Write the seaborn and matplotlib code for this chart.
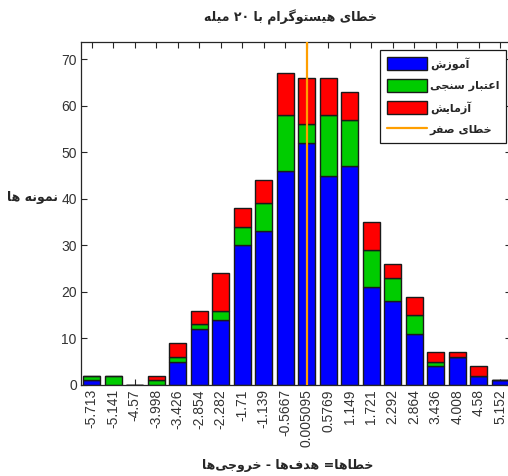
import numpy as np
import pandas as pd
import matplotlib
matplotlib.use('Agg')
import matplotlib.pyplot as plt
import seaborn as sns
from matplotlib.patches import Patch
from matplotlib.lines import Line2D

# ── Data ──────────────────────────────────────────────────────
bin_labels = ['-5.713', '-5.141', '-4.57', '-3.998', '-3.426', '-2.854', '-2.282',
              '-1.71', '-1.139', '-0.5667', '0.005095', '0.5769', '1.149', '1.721',
              '2.292', '2.864', '3.436', '4.008', '4.58', '5.152']
training   = [1, 0, 0, 0, 5, 12, 14, 30, 33, 46, 52, 45, 47, 21, 18, 11, 4, 6, 2, 1]
validation = [1, 2, 0, 1, 1, 1, 2, 4, 6, 12, 4, 13, 10, 8, 5, 4, 1, 0, 0, 0]
test       = [0, 0, 0, 1, 3, 3, 8, 4, 5, 9, 10, 8, 6, 6, 3, 4, 2, 1, 2, 0]

title_txt  = 'خطای هیستوگرام با ۲۰ میله'
xlabel_txt = 'خطاها= هدف\u200cها - خروجی\u200cها'
ylabel_txt = 'نمونه ها'
leg_labels = ['آموزش', 'اعتبار سنجی', 'آزمایش', 'خطای صفر']

# ── Minimal Persian shaping (matplotlib has no RTL / joining) ──
FORMS = {  # isolated, final, initial, medial
    'ا': ('\uFE8D', '\uFE8E'), 'آ': ('\uFE81', '\uFE82'),
    'د': ('\uFEA9', '\uFEAA'), 'ر': ('\uFEAD', '\uFEAE'),
    'ز': ('\uFEAF', '\uFEB0'), 'و': ('\uFEED', '\uFEEE'),
    'ب': ('\uFE8F', '\uFE90', '\uFE91', '\uFE92'),
    'ت': ('\uFE95', '\uFE96', '\uFE97', '\uFE98'),
    'ج': ('\uFE9D', '\uFE9E', '\uFE9F', '\uFEA0'),
    'خ': ('\uFEA5', '\uFEA6', '\uFEA7', '\uFEA8'),
    'س': ('\uFEB1', '\uFEB2', '\uFEB3', '\uFEB4'),
    'ش': ('\uFEB5', '\uFEB6', '\uFEB7', '\uFEB8'),
    'ص': ('\uFEB9', '\uFEBA', '\uFEBB', '\uFEBC'),
    'ط': ('\uFEC1', '\uFEC2', '\uFEC3', '\uFEC4'),
    'ع': ('\uFEC9', '\uFECA', '\uFECB', '\uFECC'),
    'ف': ('\uFED1', '\uFED2', '\uFED3', '\uFED4'),
    'ل': ('\uFEDD', '\uFEDE', '\uFEDF', '\uFEE0'),
    'م': ('\uFEE1', '\uFEE2', '\uFEE3', '\uFEE4'),
    'ن': ('\uFEE5', '\uFEE6', '\uFEE7', '\uFEE8'),
    'ه': ('\uFEE9', '\uFEEA', '\uFEEB', '\uFEEC'),
    'ی': ('\uFEEF', '\uFEF0', '\uFEF3', '\uFEF4'),
    'گ': ('\uFB92', '\uFB93', '\uFB94', '\uFB95'),
}


def shape(s):
    chars = list(s)
    out = []
    for i, c in enumerate(chars):
        f = FORMS.get(c)
        if f is None:
            if c != '\u200c':
                out.append(c)
            continue
        prev = chars[i - 1] if i > 0 else None
        nxt = chars[i + 1] if i + 1 < len(chars) else None
        jp = prev is not None and len(FORMS.get(prev, ())) == 4
        jn = len(f) == 4 and nxt is not None and nxt in FORMS
        if jp and jn:
            out.append(f[3])
        elif jp:
            out.append(f[1])
        elif jn:
            out.append(f[2])
        else:
            out.append(f[0])
    # visual order: reverse, but keep digit runs left-to-right
    runs, cur = [], ''
    for c in out:
        if c.isdigit():
            cur += c
        else:
            if cur:
                runs.append(cur); cur = ''
            runs.append(c)
    if cur:
        runs.append(cur)
    return ''.join(runs[::-1])


# ── Build table for seaborn ───────────────────────────────────
centers = np.array([float(v) for v in bin_labels])
width = (centers[-1] - centers[0]) / (len(centers) - 1)
edges = [float(e) for e in np.append(centers - width / 2, centers[-1] + width / 2)]

df = pd.concat([
    pd.DataFrame({'err': centers, 'n': training,   'set': 'train'}),
    pd.DataFrame({'err': centers, 'n': validation, 'set': 'val'}),
    pd.DataFrame({'err': centers, 'n': test,       'set': 'test'}),
], ignore_index=True)

colors = {'train': '#0000FF', 'val': '#00CC00', 'test': '#FF0000'}
zero_color = '#FF9F00'

sns.set_style('white')
plt.rcParams['font.family'] = ['Liberation Sans', 'DejaVu Sans']

fig = plt.figure(figsize=(5.08, 4.76), dpi=100)
ax = fig.add_axes([81/508, 1 - 385/476, 430/508, 343/476])

sns.histplot(data=df, x='err', weights='n', hue='set',
             hue_order=['test', 'val', 'train'], palette=colors,
             bins=edges, multiple='stack', shrink=0.8, alpha=1,
             edgecolor='#1a1a1a', linewidth=1, legend=False, ax=ax)
ax.axvline(0, color=zero_color, lw=1.6, zorder=5)

ax.set_xlim(edges[0], edges[-1])
ax.set_ylim(0, 73.7)
ax.set_xticks(centers)
ax.set_xticklabels(bin_labels, rotation=90, fontsize=10, color='#333333')
ax.set_yticks(np.arange(0, 71, 10))
ax.tick_params(axis='y', labelsize=10, labelcolor='#333333')
ax.tick_params(direction='in', length=4, width=0.8, color='#262626',
               top=True, right=True, bottom=True, left=True, pad=3)
for sp in ax.spines.values():
    sp.set_visible(True); sp.set_color('#262626'); sp.set_linewidth(0.9)
ax.set_xlabel(''); ax.set_ylabel('')

ar = dict(family='DejaVu Sans', fontweight='bold', va='center')
fig.text(290/508, 1 - 17/476, shape(title_txt), ha='center', fontsize=9, **ar)
fig.text(288/508, 1 - 465/476, shape(xlabel_txt), ha='center', fontsize=9, **ar)
fig.text(58/508, 1 - 197/476, shape(ylabel_txt), ha='right', fontsize=9, **ar)

handles = [Patch(facecolor=colors['train'], edgecolor='#1a1a1a'),
           Patch(facecolor=colors['val'], edgecolor='#1a1a1a'),
           Patch(facecolor=colors['test'], edgecolor='#1a1a1a'),
           Line2D([0], [0], color=zero_color, lw=1.6)]
leg = ax.legend(handles, [shape(t) for t in leg_labels],
                loc='upper right', bbox_to_anchor=(425/430, 335/343),
                borderaxespad=0, fancybox=False, framealpha=1,
                edgecolor='#1a1a1a', handlelength=3.6, handleheight=1.5,
                handletextpad=0.25, labelspacing=0.75, borderpad=0.6,
                prop={'family': 'DejaVu Sans', 'weight': 'bold', 'size': 8})
leg.get_frame().set_linewidth(0.9)

plt.savefig('out.png', dpi=100)
plt.close()
